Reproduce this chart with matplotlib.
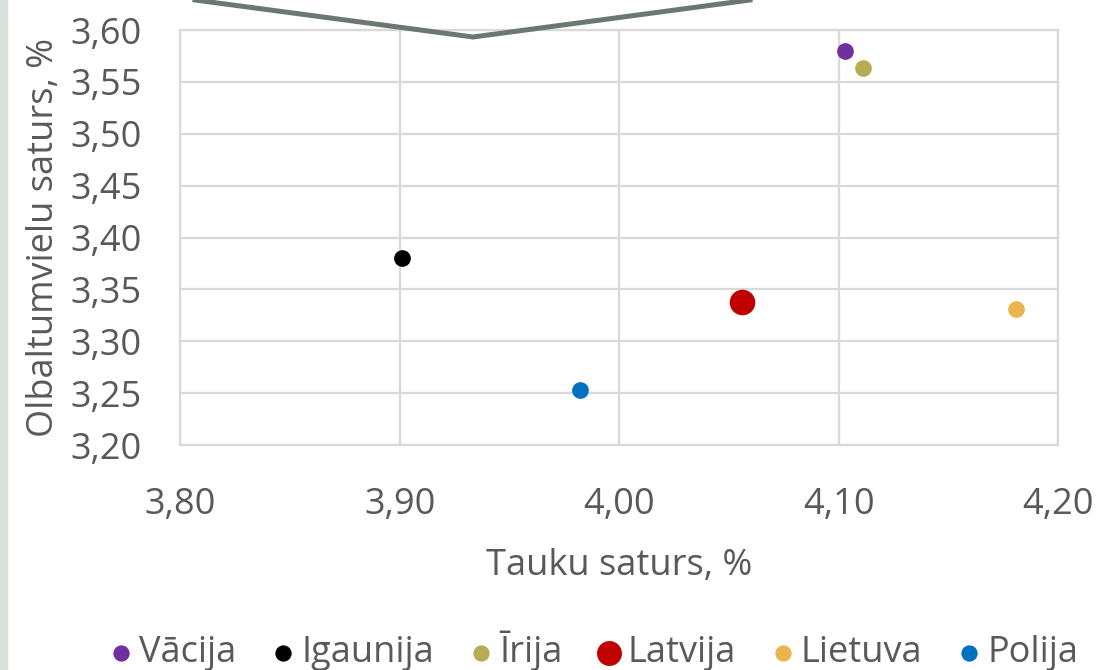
import matplotlib.pyplot as plt
from matplotlib.lines import Line2D
from matplotlib.patches import Rectangle
from matplotlib.ticker import FuncFormatter, MultipleLocator

plt.rcParams['font.family'] = ['Open Sans', 'DejaVu Sans']

countries = ["Vācija", "Igaunija", "Īrija", "Latvija", "Lietuva", "Polija"]
fat = [4.103, 3.901, 4.111, 4.056, 4.181, 3.982]
protein = [3.580, 3.380, 3.563, 3.338, 3.331, 3.253]
colors = ["#7030a0", "#000000", "#b7ad56", "#c00000", "#eab54e", "#0070c0"]
sizes = [145, 145, 145, 340, 145, 145]

txt = "#595959"
grid = "#d9d9d9"

fig = plt.figure(figsize=(10.97, 6.70), dpi=100)
ax = fig.add_axes([0.1645, 0.3358, 0.8, 0.6194])

for name, x, y, c, s in zip(countries, fat, protein, colors, sizes):
    ax.scatter(x, y, s=s, color=c, label=name, zorder=3, linewidths=0)

ax.set_xlim(3.80, 4.20)
ax.set_ylim(3.20, 3.60)
ax.xaxis.set_major_locator(MultipleLocator(0.1))
ax.yaxis.set_major_locator(MultipleLocator(0.05))
fmt = FuncFormatter(lambda v, p: f"{v:.2f}".replace(".", ","))
ax.xaxis.set_major_formatter(fmt)
ax.yaxis.set_major_formatter(fmt)
ax.grid(True, color=grid, linewidth=1.6, zorder=0)
for sp in ax.spines.values():
    sp.set_color(grid)
    sp.set_linewidth(1.6)
ax.tick_params(length=0, labelsize=26, colors=txt)
ax.tick_params(axis='x', pad=30)
ax.tick_params(axis='y', pad=28)

ax.set_xlabel("Tauku saturs, %", fontsize=26, color=txt, labelpad=18)
ax.set_ylabel("Olbaltumvielu saturs, %", fontsize=26, color=txt, labelpad=6)

leg = fig.legend(loc='center', bbox_to_anchor=(0.54, 0.028), ncol=6, frameon=False,
                 fontsize=26, handletextpad=0.1, columnspacing=0.9,
                 handlelength=0.8, borderaxespad=0)
for t in leg.get_texts():
    t.set_color(txt)
for h, s in zip(leg.legend_handles, sizes):
    h.set_sizes([s * 0.95])

# decorative slide elements
fig.add_artist(Rectangle((0, 0), 7 / 1097, 1, transform=fig.transFigure,
                         color="#dadfdc", zorder=0))
fig.add_artist(Line2D([195 / 1097, 473 / 1097, 750 / 1097],
                      [1.0, 1 - 37 / 670, 1.0], transform=fig.transFigure,
                      color="#6b786f", linewidth=3.6))

fig.savefig("out.png", dpi=100)
